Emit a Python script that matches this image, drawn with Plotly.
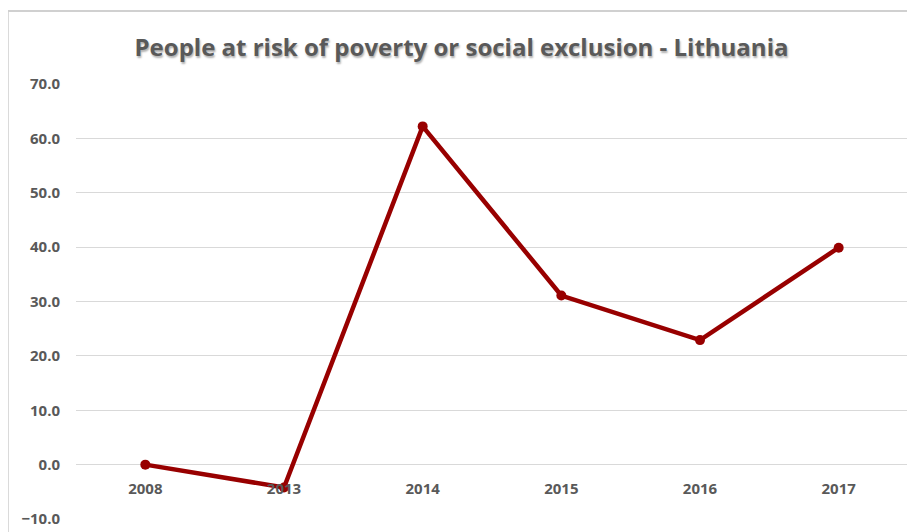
import plotly.graph_objects as go

years = ["2008", "2013", "2014", "2015", "2016", "2017"]
values = [0.0, -4.2, 62.2, 31.1, 22.9, 39.9]
y_ticks = [-10, 0, 10, 20, 30, 40, 50, 60, 70]
y_min, y_max = -10, 70

fig = go.Figure()
fig.add_trace(go.Scatter(
    x=years, y=values, mode="lines+markers",
    line=dict(color="#980000", width=4.5),
    marker=dict(color="#980000", size=10),
    cliponaxis=False,
))

zero_pos = (0 - y_min) / (y_max - y_min)

# page body has an 8px default margin, so the figure is sized to fit the 915x532 window
fig.update_layout(
    width=907, height=524,
    margin=dict(l=68, r=7, t=76, b=13, autoexpand=False),
    paper_bgcolor="white", plot_bgcolor="white",
    showlegend=False,
    title=dict(
        text="People at risk of poverty or social exclusion - Lithuania",
        x=0.5, xanchor="center", y=0.925, yanchor="middle",
        font=dict(family="Open Sans", size=24, color="#595959", weight="bold",
                  shadow="1px 2px 2px #b0b0b0"),
    ),
    xaxis=dict(
        type="category", anchor="free", position=zero_pos,
        range=[-0.5, len(years) - 0.5], automargin=False,
        showgrid=False, showline=False, zeroline=False,
        ticks="", ticklabelstandoff=13,
        tickfont=dict(family="Open Sans", size=15, color="#595959", weight="bold"),
    ),
    yaxis=dict(
        range=[y_min, y_max], tickvals=y_ticks, tickformat=".1f", automargin=False,
        showgrid=True, gridcolor="#d9d9d9", gridwidth=1,
        zeroline=False, showline=False, ticks="",
        tickfont=dict(family="Open Sans", size=15, color="#595959", weight="bold"),
        ticklabelstandoff=15,
    ),
    shapes=[dict(type="rect", xref="paper", yref="paper",
                 x0=-0.082, x1=1.2, y0=-0.5, y1=1.168,
                 line=dict(color="#d0d0d0", width=2), layer="below")],
)

fig.write_html("out.html")
